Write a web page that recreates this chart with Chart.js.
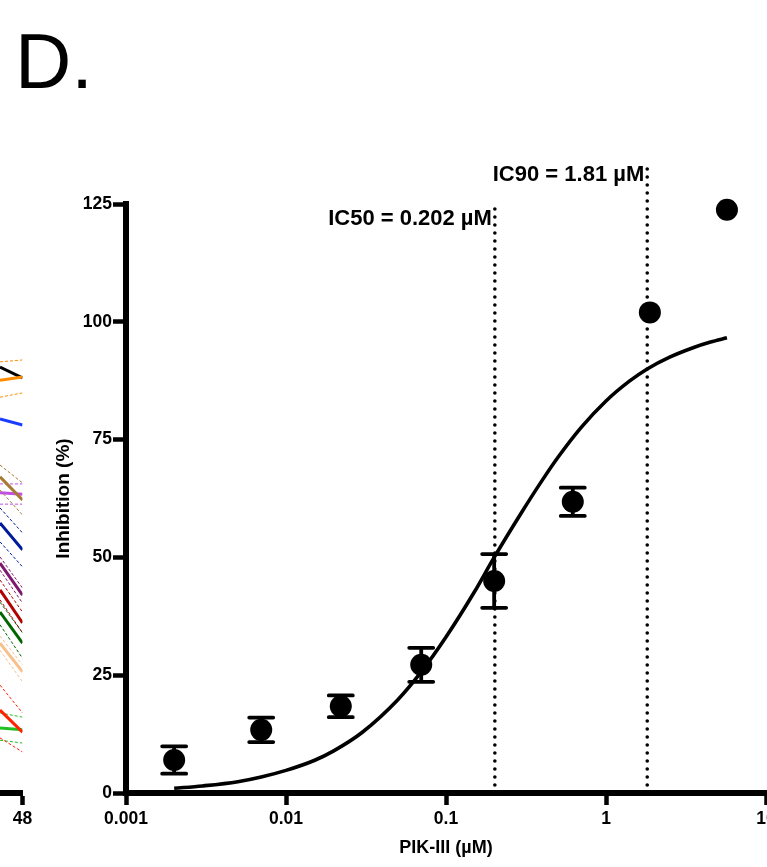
<!DOCTYPE html>
<html>
<head>
<meta charset="utf-8">
<script src="https://cdn.jsdelivr.net/npm/chart.js@4.4.1/dist/chart.umd.min.js"></script>
<style>
  html, body { margin: 0; padding: 0; background: #fff; overflow: hidden; }
  body { width: 767px; height: 867px; position: relative; }
  #panelLetter { position: absolute; left: 15px; top: 22px; font: 78px/1 'Liberation Sans', Arial, sans-serif; color: #000; }
  #prevWrap { position: absolute; left: -40px; top: 0; width: 80px; height: 867px; }
  #doseWrap { position: absolute; left: 0; top: 0; width: 830px; height: 867px; }
</style>
</head>
<body>
<div id="panelLetter">D.</div>
<div id="prevWrap"><canvas id="prevChart"></canvas></div>
<div id="doseWrap"><canvas id="doseChart"></canvas></div>
<script>
// PIK-III dose response (mean +/- SEM)
const doses = [0.002, 0.007, 0.022, 0.07, 0.2, 0.62, 1.88, 5.7];
const inhibition = [7.0, 13.4, 18.4, 27.2, 45.0, 61.8, 102.0, 123.8];
const inhibitionSem = [2.9, 2.6, 2.3, 3.6, 5.7, 3.0, 0, 0];

// fitted curve
const fitDoses = [0.002, 0.003, 0.005, 0.007, 0.01, 0.015, 0.02, 0.03, 0.05, 0.07, 0.1, 0.15,
                  0.2, 0.3, 0.4, 0.5, 0.7, 1, 1.4, 1.81, 2.5, 3.5, 4.5, 5.7];
const fitInhibition = [1.0, 1.5, 2.4, 3.4, 4.8, 6.9, 9.0, 12.9, 19.8, 25.7, 33.1, 42.6,
                       50.0, 59.8, 66.4, 71.2, 77.6, 83.2, 87.4, 90.0, 92.5, 94.5, 95.7, 96.6];

const icValues = [0.202, 1.81];
const icLineTops = [125.4, 133.3];
const icLabels = ['IC50 = 0.202 µM', 'IC90 = 1.81 µM'];

const xTicks = [0.001, 0.01, 0.1, 1, 10];
const yTicks = [0, 25, 50, 75, 100, 125];

// right end of the neighbouring time-course panel
const fragHours = [47, 48];
const fragColors = ['#ff8c00', '#000000', '#1a3cff', '#a57a32', '#c24fe6', '#001a99',
                    '#7e1a6e', '#b00000', '#006400', '#f7c08c', '#ff2200', '#22c022'];
const fragMean = [[87.6, 88.3], [90.4, 88.1], [79.4, 78.1], [67.1, 62.2], [63.7, 63.4], [57.3, 51.6],
                  [48.8, 42.0], [43.1, 36.1], [38.4, 31.8], [31.8, 25.7], [17.6, 12.9], [13.8, 13.4]];
const fragUpper = [[91.5, 91.9], null, null, [69.6, 65.8], [65.6, 65.6], [60.5, 55.2],
                   [50.1, 43.5], [45.2, 38.4], [40.5, 34.0], [33.3, 27.2], [22.9, 17.0], [17.0, 16.1]];
const fragLower = [[84.0, 84.9], null, null, [64.3, 59.0], [61.3, 61.3], [53.3, 48.0],
                   [47.3, 40.3], [41.0, 34.0], [35.7, 28.6], [30.3, 23.6], [11.7, 8.7], [11.2, 10.6]];

Chart.defaults.font.family = "'Liberation Sans', Arial, sans-serif";
Chart.defaults.color = '#000';

const toPoints = (xs, ys) => xs.map((x, i) => ({ x: x, y: ys[i] }));

const errorBars = {
    id: 'errorBars',
    afterDatasetsDraw(chart) {
        const { ctx, scales: { x, y } } = chart;
        ctx.save();
        ctx.strokeStyle = '#000';
        ctx.lineWidth = 3.8;
        ctx.lineCap = 'round';
        doses.forEach((d, i) => {
            const e = inhibitionSem[i];
            if (!e) return;
            const px = x.getPixelForValue(d);
            const top = y.getPixelForValue(inhibition[i] + e);
            const bot = y.getPixelForValue(inhibition[i] - e);
            ctx.beginPath();
            ctx.moveTo(px, top); ctx.lineTo(px, bot);
            ctx.moveTo(px - 12, top); ctx.lineTo(px + 12, top);
            ctx.moveTo(px - 12, bot); ctx.lineTo(px + 12, bot);
            ctx.stroke();
        });
        ctx.restore();
    }
};

// IC labels sit just left of their dotted lines
const icText = {
    id: 'icText',
    afterDraw(chart) {
        const { ctx, scales: { x, y } } = chart;
        const labelY = [121.8, 131.2];
        ctx.save();
        ctx.font = "bold 22px 'Liberation Sans', Arial, sans-serif";
        ctx.fillStyle = '#000';
        ctx.textAlign = 'right';
        ctx.textBaseline = 'middle';
        icValues.forEach((v, i) => {
            ctx.fillText(icLabels[i], x.getPixelForValue(v) - 3, y.getPixelForValue(labelY[i]));
        });
        ctx.restore();
    }
};

const icDatasets = icValues.map((v, i) => ({
    type: 'line',
    data: [{ x: v, y: 0 }, { x: v, y: icLineTops[i] }],
    borderColor: '#000',
    borderWidth: 3.6,
    borderDash: [0, 8],
    borderCapStyle: 'round',
    pointRadius: 0,
    clip: false
}));

new Chart(document.getElementById('doseChart'), {
    type: 'line',
    data: {
        datasets: [
            {
                type: 'scatter',
                data: toPoints(doses, inhibition),
                backgroundColor: '#000',
                borderWidth: 0,
                pointRadius: 11,
                clip: false
            },
            {
                data: toPoints(fitDoses, fitInhibition),
                borderColor: '#000',
                borderWidth: 3.6,
                pointRadius: 0,
                cubicInterpolationMode: 'monotone'
            },
            ...icDatasets
        ]
    },
    options: {
        responsive: true,
        maintainAspectRatio: false,
        animation: false,
        layout: { padding: { top: 204, right: 64, left: 0, bottom: 0 } },
        plugins: { legend: { display: false }, tooltip: { enabled: false } },
        scales: {
            x: {
                type: 'logarithmic',
                min: 0.001,
                max: 10,
                afterBuildTicks: (scale) => { scale.ticks = xTicks.map(v => ({ value: v })); },
                afterFit: (scale) => { scale.height = 74; },
                ticks: {
                    autoSkip: false,
                    maxRotation: 0,
                    padding: 4,
                    font: { size: 17.5, weight: 'bold' },
                    callback: (v) => String(v)
                },
                grid: { drawOnChartArea: false, drawTicks: true, tickLength: 12, tickWidth: 4.5, tickColor: '#000' },
                border: { color: '#000', width: 6 },
                title: {
                    display: true,
                    text: 'PIK-III (µM)',
                    font: { size: 18, weight: 'bold' },
                    padding: { top: 0, bottom: 8 }
                }
            },
            y: {
                min: 0,
                max: 125,
                afterBuildTicks: (scale) => { scale.ticks = yTicks.map(v => ({ value: v })); },
                afterFit: (scale) => { scale.width = 126; },
                ticks: { padding: 1, font: { size: 17.5, weight: 'bold' } },
                grid: { drawOnChartArea: false, drawTicks: true, tickLength: 13, tickWidth: 4.5, tickColor: '#000' },
                border: { color: '#000', width: 6 },
                title: {
                    display: true,
                    text: 'Inhibition (%)',
                    font: { size: 19, weight: 'bold' },
                    padding: { top: 52, bottom: 0 }
                }
            }
        }
    },
    plugins: [errorBars, icText]
});

// neighbouring panel: mean lines with dashed bands
const fragDatasets = [];
fragColors.forEach((c, i) => {
    [fragUpper[i], fragLower[i]].forEach(band => {
        if (!band) return;
        fragDatasets.push({
            data: toPoints(fragHours, band),
            borderColor: c,
            borderWidth: 1,
            borderDash: [3, 2],
            pointRadius: 0
        });
    });
    fragDatasets.push({
        data: toPoints(fragHours, fragMean[i]),
        borderColor: c,
        borderWidth: 3,
        pointRadius: 0
    });
});

new Chart(document.getElementById('prevChart'), {
    type: 'line',
    data: { datasets: fragDatasets },
    options: {
        responsive: true,
        maintainAspectRatio: false,
        animation: false,
        layout: { padding: { top: 204, right: 17.5, left: 40, bottom: 0 } },
        plugins: { legend: { display: false }, tooltip: { enabled: false } },
        scales: {
            x: {
                type: 'linear',
                min: 47,
                max: 48,
                afterBuildTicks: (scale) => { scale.ticks = [{ value: 48 }]; },
                afterFit: (scale) => { scale.height = 74; },
                ticks: { padding: 4, maxRotation: 0, font: { size: 17.5, weight: 'bold' } },
                grid: { drawOnChartArea: false, drawTicks: true, tickLength: 12, tickWidth: 4.5, tickColor: '#000' },
                border: { color: '#000', width: 6 }
            },
            y: { display: false, min: 0, max: 125 }
        }
    }
});
</script>
</body>
</html>
